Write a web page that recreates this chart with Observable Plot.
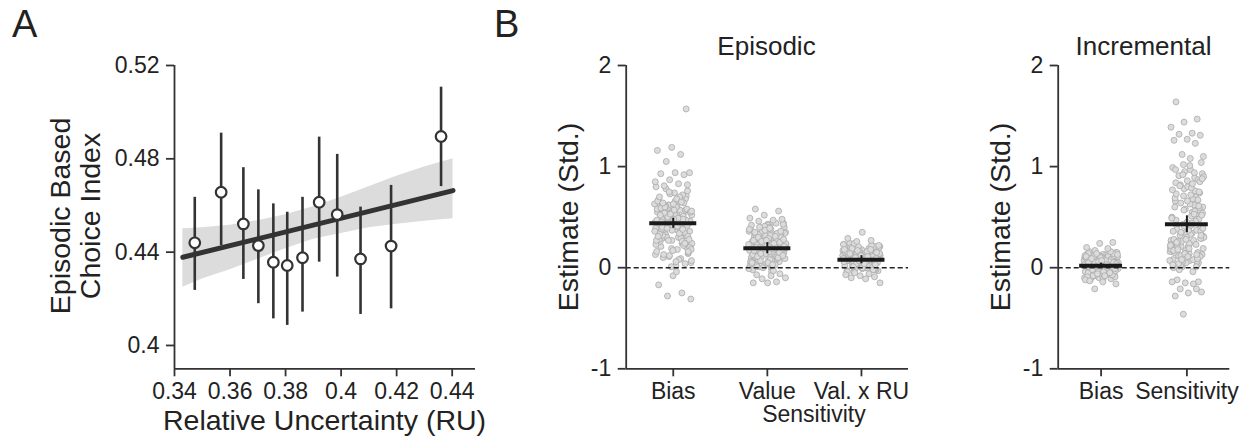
<!DOCTYPE html>
<html>
<head>
<meta charset="utf-8">
<script src="https://cdn.jsdelivr.net/npm/d3@7"></script>
<script src="https://cdn.jsdelivr.net/npm/@observablehq/plot@0.6"></script>
<style>
  html, body { margin: 0; padding: 0; background: #fff; }
  #fig { position: relative; width: 1247px; height: 440px; font-family: "Liberation Sans", Arial, sans-serif; color: #222; }
  .panel { position: absolute; top: 0; }
  .panel svg { overflow: visible; }
  .panel svg g text { font-size: 23px !important; font-family: "Liberation Sans", Arial, sans-serif !important; }
  .panel svg g[aria-label$="tick"] path, .panel svg g[aria-label$="tick"] line { stroke-width: 1.8px; stroke: #333; }
</style>
</head>
<body>
<div id="fig">
  <div class="panel" id="pA" style="left:0px"></div>
  <div class="panel" id="pB1" style="left:480px"></div>
  <div class="panel" id="pB2" style="left:930px"></div>
</div>
<script>
// ---------- Panel A data ----------
const ruX   = [0.3473, 0.3568, 0.3648, 0.3702, 0.3756, 0.3806, 0.3861, 0.3921, 0.3986, 0.4070, 0.4180, 0.4360];
const ebci  = [0.4440, 0.4657, 0.4521, 0.4428, 0.4357, 0.4343, 0.4376, 0.4614, 0.4561, 0.4371, 0.4426, 0.4896];
const ebciLo = [0.4236, 0.4428, 0.4283, 0.4179, 0.4114, 0.4086, 0.4143, 0.4357, 0.4293, 0.4133, 0.4157, 0.4681];
const ebciHi = [0.4635, 0.4910, 0.4762, 0.4667, 0.4607, 0.4571, 0.4635, 0.4893, 0.4819, 0.4593, 0.4686, 0.5107];
const fitX = [0.343, 0.4403];
const fitY = [0.4378, 0.4664];
const bandX  = [0.343, 0.35, 0.36, 0.37, 0.38, 0.39, 0.40, 0.41, 0.42, 0.43, 0.4403];
const bandLo = [0.4250, 0.4285, 0.4325, 0.4370, 0.4415, 0.4455, 0.4480, 0.4505, 0.4520, 0.4532, 0.4543];
const bandHi = [0.4500, 0.4505, 0.4515, 0.4535, 0.4560, 0.4595, 0.4635, 0.4680, 0.4725, 0.4765, 0.4800];
const xTicksA = [0.34, 0.36, 0.38, 0.4, 0.42, 0.44];
const yTicksA = [0.4, 0.44, 0.48, 0.52];

// ---------- Panel B data ----------
const yTicksB = [-1, 0, 1, 2];
const epiCats = ["Bias", "Value", "Val. x RU"];
const incCats = ["Bias", "Sensitivity"];
const epiMeans = [0.44, 0.193, 0.079];
const epiSE = [0.05, 0.055, 0.04];
const incMeans = [0.02, 0.43];
const incSE = [0.025, 0.083];

const epiBias = [
0.45,0.31,0.62,0.52,0.18,0.40,0.71,0.27,0.55,0.09,
0.48,0.36,0.66,0.21,0.43,0.58,0.13,0.50,0.34,0.76,
0.39,0.60,0.24,0.47,0.05,0.53,0.29,0.68,0.42,0.16,
0.57,0.33,0.44,0.74,0.26,0.51,0.11,0.63,0.37,0.49,
0.20,0.56,0.41,0.69,0.30,0.46,0.02,0.59,0.35,0.54,
0.23,0.65,0.38,0.14,0.50,0.28,0.72,0.44,0.07,0.61,
0.32,0.47,0.19,0.58,0.40,0.78,0.25,0.52,0.36,0.64,
0.12,0.45,0.30,0.55,0.42,0.17,0.67,0.34,0.49,0.22,
0.60,0.38,0.04,0.53,0.27,0.70,0.43,0.15,0.57,0.33,
0.48,0.62,0.24,0.41,0.10,0.56,0.37,0.66,0.29,0.51,
0.20,0.46,0.59,0.35,0.73,0.39,0.08,0.54,0.31,0.63,
0.44,0.26,0.50,0.18,0.68,0.40,0.57,0.01,0.47,0.35,
0.61,0.28,0.43,0.52,0.22,0.75,0.36,0.49,0.13,0.58,
0.42,0.31,0.65,0.39,0.55,0.06,0.45,0.24,0.53,0.80,
0.34,0.60,0.16,0.48,0.70,0.38,0.27,0.56,0.41,0.64,
1.57,1.19,1.16,1.12,1.05,0.94,0.94,0.93,0.92,0.87,
0.85,0.83,0.81,0.82,-0.08,-0.17,-0.25,-0.28,-0.31,-0.04];

const epiValue = [
0.21,0.05,0.33,0.14,0.40,0.26,0.09,0.18,0.37,0.02,
0.29,0.12,0.23,0.43,0.07,0.31,0.17,0.35,0.00,0.24,
0.15,0.39,0.10,0.27,0.20,0.44,0.04,0.32,0.13,0.22,
0.36,0.08,0.28,0.19,0.41,-0.02,0.25,0.11,0.34,0.16,
0.30,0.06,0.21,0.38,0.14,0.01,0.26,0.42,0.18,0.09,
0.33,0.23,-0.04,0.29,0.12,0.36,0.20,0.03,0.27,0.15,
0.40,0.10,0.24,0.31,0.17,0.45,0.07,0.22,0.35,0.13,
0.28,0.02,0.19,0.38,0.11,0.25,0.32,0.06,0.21,0.16,
0.43,0.09,0.30,0.14,0.37,-0.01,0.23,0.18,0.34,0.04,
0.26,0.12,0.39,0.20,0.08,0.29,0.15,0.41,0.22,-0.03,
0.33,0.17,0.05,0.27,0.11,0.36,0.24,0.19,0.01,0.31,
0.14,0.42,0.21,0.07,0.28,0.16,0.35,0.10,0.25,0.38,
0.03,0.30,0.18,0.22,0.13,0.44,0.26,0.09,0.32,0.20,
0.15,0.37,0.06,0.24,0.40,0.12,0.29,0.17,0.34,0.00,
0.23,0.19,0.11,0.36,0.27,0.05,0.31,0.14,0.21,0.39,
0.58,0.56,0.52,0.49,0.47,0.46,0.48,-0.15,-0.15,-0.14,
-0.11,-0.10,-0.08,-0.07,-0.06];

const epiValRU = [
0.08,0.02,0.14,0.05,0.19,0.11,-0.01,0.07,0.16,0.03,
0.12,0.00,0.09,0.21,0.04,0.13,0.06,0.17,-0.03,0.10,
0.15,0.01,0.08,0.23,0.05,0.12,-0.02,0.18,0.07,0.11,
0.03,0.14,0.09,0.20,0.02,0.06,0.16,0.10,-0.04,0.13,
0.07,0.22,0.04,0.11,0.17,0.01,0.08,0.15,0.05,0.19,
0.10,-0.01,0.12,0.06,0.24,0.03,0.09,0.14,0.00,0.18,
0.11,0.07,0.16,0.02,0.13,0.21,0.05,0.10,-0.02,0.15,
0.08,0.19,0.04,0.12,0.06,0.17,0.01,0.09,0.23,0.11,
0.03,0.14,0.07,-0.03,0.16,0.10,0.20,0.05,0.13,0.08,
0.18,0.02,0.11,0.06,0.15,0.00,0.09,0.22,0.04,0.12,
0.07,0.17,-0.01,0.10,0.14,0.03,0.19,0.08,0.05,0.13,
0.11,0.21,0.06,0.16,0.01,0.09,0.12,-0.04,0.18,0.04,
0.14,0.08,0.20,0.02,0.10,0.15,0.07,0.24,0.05,0.11,
0.13,0.00,0.17,0.09,0.06,0.19,0.03,0.12,0.16,0.08,
0.10,0.22,0.04,0.14,-0.02,0.07,0.18,0.11,0.01,0.15,
0.35,0.29,0.27,0.26,-0.15,-0.11,-0.10,-0.09,-0.08,-0.07,
-0.06,-0.05];

const incBias = [
0.02,-0.06,0.09,-0.01,0.13,0.04,-0.09,0.07,-0.03,0.11,
0.00,0.15,-0.05,0.06,-0.11,0.03,0.10,-0.02,0.08,-0.07,
0.12,0.01,-0.04,0.14,0.05,-0.08,0.02,0.09,-0.10,0.06,
-0.01,0.11,0.03,-0.06,0.16,0.00,-0.03,0.07,0.04,-0.09,
0.10,-0.02,0.13,0.01,-0.05,0.08,0.05,-0.12,0.03,0.12,
-0.04,0.06,0.00,0.09,-0.07,0.14,0.02,-0.01,0.11,-0.06,
0.04,0.07,-0.03,0.10,0.01,-0.08,0.05,0.13,-0.02,0.08,
0.03,-0.10,0.06,0.00,0.12,-0.05,0.09,0.02,-0.04,0.15,
0.01,0.07,-0.07,0.04,0.10,-0.01,0.06,-0.09,0.11,0.03,
-0.03,0.08,0.05,-0.06,0.02,0.14,-0.02,0.09,0.00,0.17,
0.04,-0.11,0.07,0.01,-0.04,0.12,0.05,-0.08,0.03,0.10,
-0.05,0.06,0.02,0.13,-0.01,0.08,-0.07,0.04,0.11,0.00,
0.06,-0.03,0.09,0.01,0.16,-0.06,0.03,0.07,-0.02,0.05,
0.10,-0.09,0.02,0.12,0.04,-0.04,0.08,0.00,0.06,-0.12,
0.03,0.11,-0.01,0.07,0.05,-0.05,0.14,0.02,-0.08,0.09,
0.25,0.24,0.20,0.19,-0.21,-0.16,-0.14,-0.13];

const incSens = [
0.35,0.08,0.62,0.21,0.93,0.14,0.47,0.03,0.78,0.27,
0.55,0.11,0.39,0.86,0.18,0.70,0.01,0.31,0.97,0.24,
0.05,0.58,0.16,0.44,0.82,0.29,0.09,0.66,0.37,1.02,
0.20,0.51,0.12,0.74,0.33,0.00,0.89,0.26,0.60,0.07,
0.42,0.15,0.95,0.22,0.68,0.04,0.36,0.80,0.19,0.53,
0.10,0.30,0.72,0.02,0.48,0.17,0.99,0.25,0.64,0.13,
0.40,0.84,0.06,0.57,0.23,0.34,0.91,0.11,0.45,0.28,
0.76,0.03,0.19,0.63,0.38,0.87,0.14,0.50,0.08,0.32,
1.04,0.21,0.69,0.01,0.43,0.16,0.79,0.26,0.59,0.05,
0.36,0.94,0.12,0.54,0.24,0.73,0.09,0.41,0.18,0.83,
-0.02,0.29,0.66,0.15,0.46,0.06,0.90,0.33,0.20,0.61,
0.10,0.77,0.27,0.02,0.52,0.37,0.97,0.13,0.71,0.22,
0.44,0.04,0.85,0.30,0.17,0.56,0.08,0.39,1.01,0.25,
0.67,0.14,0.49,-0.04,0.81,0.32,0.11,0.60,0.23,0.92,
0.07,0.42,0.18,0.75,0.28,0.03,0.53,0.35,0.88,0.19,
1.64,1.47,1.44,1.39,1.33,1.32,1.31,1.27,1.26,1.23,
1.12,1.10,1.08,-0.12,-0.14,-0.15,-0.14,-0.16,-0.21,-0.24,
-0.25,-0.28,-0.21,-0.46];

// ---------- helpers ----------
const FONT = '"Liberation Sans", Arial, sans-serif';
const INK = "#222";
const LINE = "#333";
const baseStyle = {fontFamily: FONT, fontSize: "23px", color: INK, background: "transparent", overflow: "visible"};
// deterministic strip-plot jitter (layout only)
const jitter = i => (((i * 0.6180339887 + 0.137) % 1) - 0.5) * 0.4;

function addText(svg, {x, y, text, size, anchor = "middle", rotate = 0}) {
  d3.select(svg).append("text")
    .attr("transform", `translate(${x},${y})${rotate ? ` rotate(${rotate})` : ""}`)
    .attr("text-anchor", anchor)
    .style("font-family", FONT)
    .style("font-size", size + "px")
    .attr("fill", INK)
    .text(text);
}

// ---------- Panel A ----------
const ptsA = ruX.map((x, i) => ({x, y: ebci[i], lo: ebciLo[i], hi: ebciHi[i]}));
const bandA = bandX.map((x, i) => ({x, lo: bandLo[i], hi: bandHi[i]}));
const fitA = fitX.map((x, i) => ({x, y: fitY[i]}));

const svgA = Plot.plot({
  width: 480, height: 440,
  marginLeft: 174, marginRight: 5, marginTop: 65, marginBottom: 71.7,
  style: baseStyle,
  x: {domain: [0.34, 0.4484], ticks: xTicksA, tickFormat: d => String(d), tickSize: 8, tickPadding: 6, label: null},
  y: {domain: [0.39, 0.52], ticks: yTicksA, tickFormat: d => String(d), tickSize: 8, tickPadding: 7, label: null},
  marks: [
    Plot.areaY(bandA, {x: "x", y1: "lo", y2: "hi", fill: "#dcdcdc"}),
    Plot.line(fitA, {x: "x", y: "y", stroke: LINE, strokeWidth: 5}),
    Plot.ruleX(ptsA, {x: "x", y1: "lo", y2: "hi", stroke: LINE, strokeWidth: 2.6}),
    Plot.dot(ptsA, {x: "x", y: "y", r: 5.3, fill: "white", stroke: LINE, strokeWidth: 2.2}),
    Plot.ruleX([0.34], {stroke: LINE, strokeWidth: 1.8}),
    Plot.ruleY([0.39], {stroke: LINE, strokeWidth: 1.8})
  ]
});
document.getElementById("pA").appendChild(svgA);
addText(svgA, {x: 12, y: 37, text: "A", size: 38, anchor: "start"});
addText(svgA, {x: 324.5, y: 430, text: "Relative Uncertainty (RU)", size: 28.5});
addText(svgA, {x: 70, y: 216, text: "Episodic Based", size: 28.5, rotate: -90});
addText(svgA, {x: 100, y: 216, text: "Choice Index", size: 28.5, rotate: -90});

// ---------- Panel B ----------
function stripPanel({cats, series, means, ses, width, marginLeft, marginRight}) {
  const data = series.flatMap((vals, k) => vals.map((v, i) => ({k, v, i: i + 41 * k})));
  const summ = cats.map((c, k) => ({k, m: means[k], se: ses[k]}));
  return Plot.plot({
    width, height: 440,
    marginLeft, marginRight, marginTop: 65, marginBottom: 71.7,
    style: baseStyle,
    x: {domain: [-0.5, cats.length - 0.5], ticks: d3.range(cats.length), tickFormat: k => cats[k], tickSize: 8, tickPadding: 6, label: null},
    y: {domain: [-1, 2], ticks: yTicksB, tickFormat: d => String(d), tickSize: 8, tickPadding: 7, label: null},
    marks: [
      Plot.dot(data, {x: d => d.k + jitter(d.i), y: "v", r: 3, fill: "#dcdcdc", stroke: "#a9a9a9", strokeWidth: 0.8}),
      Plot.ruleY([0], {stroke: "#222", strokeWidth: 1.5, strokeDasharray: "5,3"}),
      Plot.ruleY(summ, {y: "m", x1: d => d.k - 0.25, x2: d => d.k + 0.25, stroke: "#1a1a1a", strokeWidth: 4}),
      Plot.ruleX(summ, {x: "k", y1: d => d.m - d.se, y2: d => d.m + d.se, stroke: "#1a1a1a", strokeWidth: 2}),
      Plot.ruleX([-0.5], {stroke: LINE, strokeWidth: 1.8}),
      Plot.ruleY([-1], {stroke: LINE, strokeWidth: 1.8})
    ]
  });
}

const svgB1 = stripPanel({cats: epiCats, series: [epiBias, epiValue, epiValRU], means: epiMeans, ses: epiSE,
  width: 430, marginLeft: 145.7, marginRight: 2});
document.getElementById("pB1").appendChild(svgB1);
addText(svgB1, {x: 14, y: 37, text: "B", size: 38, anchor: "start"});
addText(svgB1, {x: 286.5, y: 55, text: "Episodic", size: 26});
addText(svgB1, {x: 98, y: 217, text: "Estimate (Std.)", size: 28.5, rotate: -90});
addText(svgB1, {x: svgB1.scale("x").apply(1.5), y: 421.7, text: "Sensitivity", size: 23});

const svgB2 = stripPanel({cats: incCats, series: [incBias, incSens], means: incMeans, ses: incSE,
  width: 317, marginLeft: 127.7, marginRight: 17.7});
document.getElementById("pB2").appendChild(svgB2);
addText(svgB2, {x: 213.5, y: 55, text: "Incremental", size: 26});
addText(svgB2, {x: 80, y: 217, text: "Estimate (Std.)", size: 28.5, rotate: -90});
</script>
</body>
</html>
